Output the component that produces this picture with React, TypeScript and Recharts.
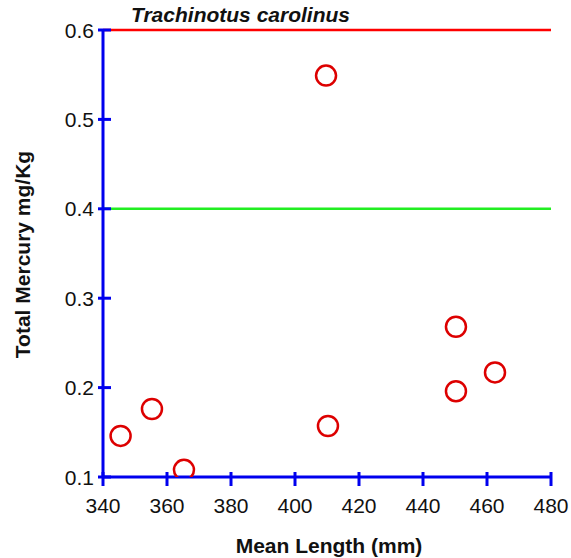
import { ReferenceLine, Scatter, ScatterChart, XAxis, YAxis, Label } from "recharts";

const lengths = [345.5, 355.3, 365.3, 409.7, 410.3, 450.3, 450.3, 462.5];
const mercury = [0.146, 0.176, 0.108, 0.549, 0.157, 0.268, 0.196, 0.217];
const xTicks = [340, 360, 380, 400, 420, 440, 460, 480];
const yTicks = [0.1, 0.2, 0.3, 0.4, 0.5, 0.6];
const limits = [
  { value: 0.6, color: "#ff0000" },
  { value: 0.4, color: "#22ee22" },
];

const points = lengths.map((len, i) => ({ len, hg: mercury[i] }));

const font = "Arial, 'Liberation Sans', sans-serif";
const blue = "#0000ee";

function XTick({ x, y, payload }: any) {
  return (
    <g>
      <line x1={x} x2={x} y1={y - 5} y2={y + 9} stroke={blue} strokeWidth={3} />
      <text x={x} y={y + 36} textAnchor="middle" fontFamily={font} fontSize={21} fill="#111">
        {payload.value}
      </text>
    </g>
  );
}

function YTick({ x, y, payload }: any) {
  return (
    <g>
      <line x1={x - 5} x2={x + 8} y1={y} y2={y} stroke={blue} strokeWidth={3} />
      <text x={x - 9} y={y} dy="0.36em" textAnchor="end" fontFamily={font} fontSize={21} fill="#111">
        {payload.value.toFixed(1)}
      </text>
    </g>
  );
}

function Ring({ cx, cy }: any) {
  return <circle cx={cx} cy={cy} r={10} fill="none" stroke="#dd0000" strokeWidth={2.5} />;
}

export default function App() {
  return (
    <div style={{ position: "absolute", left: 0, top: 0, width: 571, height: 558, background: "#fff" }}>
      <ScatterChart width={571} height={558} margin={{ top: 30, right: 20, bottom: 21, left: 0 }}>
        <XAxis
          type="number"
          dataKey="len"
          domain={[340, 480]}
          ticks={xTicks}
          height={60}
          tickSize={0}
          tickMargin={0}
          tickLine={false}
          tick={<XTick />}
          axisLine={{ stroke: blue, strokeWidth: 3 }}
          allowDataOverflow
        >
          <Label
            content={({ viewBox }: any) => (
              <text
                x={viewBox.x + viewBox.width / 2 + 2}
                y={viewBox.y + 76}
                textAnchor="middle"
                fontFamily={font}
                fontSize={21}
                fontWeight="bold"
                fill="#111"
              >
                Mean Length (mm)
              </text>
            )}
          />
        </XAxis>
        <YAxis
          type="number"
          dataKey="hg"
          domain={[0.1, 0.6]}
          ticks={yTicks}
          width={103}
          tickSize={0}
          tickMargin={0}
          tickLine={false}
          tick={<YTick />}
          axisLine={{ stroke: blue, strokeWidth: 3 }}
          allowDataOverflow
        >
          <Label
            content={({ viewBox }: any) => {
              const cy = viewBox.y + viewBox.height / 2 + 1;
              return (
                <text
                  x={30}
                  y={cy}
                  transform={`rotate(-90 30 ${cy})`}
                  textAnchor="middle"
                  fontFamily={font}
                  fontSize={21}
                  fontWeight="bold"
                  fill="#111"
                >
                  Total Mercury mg/Kg
                </text>
              );
            }}
          />
        </YAxis>
        {limits.map((l) => (
          <ReferenceLine key={l.value} y={l.value} stroke={l.color} strokeWidth={2.5} />
        ))}
        <Scatter data={points} shape={<Ring />} isAnimationActive={false} />
      </ScatterChart>
      <div
        style={{
          position: "absolute",
          left: 131,
          top: 2,
          fontFamily: font,
          fontSize: 21,
          fontWeight: "bold",
          fontStyle: "italic",
          color: "#111",
          lineHeight: "26px",
        }}
      >
        Trachinotus carolinus
      </div>
    </div>
  );
}
